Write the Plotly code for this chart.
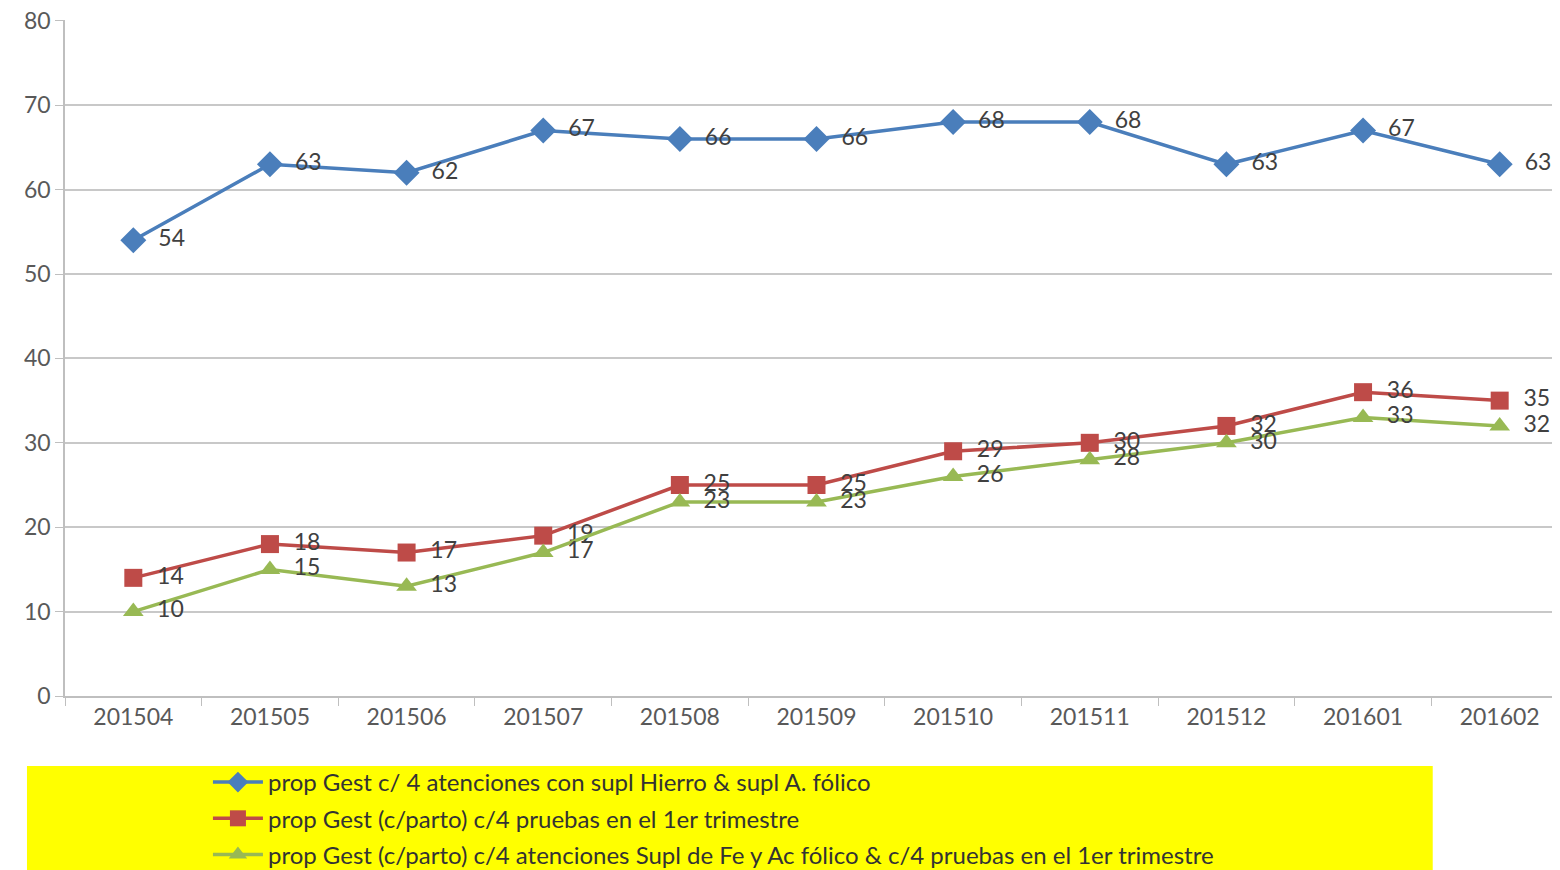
import plotly.graph_objects as go

categories = ["201504", "201505", "201506", "201507", "201508", "201509",
              "201510", "201511", "201512", "201601", "201602"]
serie_hierro = [54, 63, 62, 67, 66, 66, 68, 68, 63, 67, 63]
serie_pruebas = [14, 18, 17, 19, 25, 25, 29, 30, 32, 36, 35]
serie_ambos = [10, 15, 13, 17, 23, 23, 26, 28, 30, 33, 32]
names = [
    "prop Gest c/ 4 atenciones con supl Hierro & supl A. fólico",
    "prop Gest (c/parto) c/4 pruebas en el 1er trimestre",
    "prop Gest (c/parto) c/4 atenciones Supl de Fe y Ac fólico & c/4 pruebas en el 1er trimestre",
]

FONT = "Lato, 'Open Sans', sans-serif"
series = [
    (serie_hierro, names[0], "#4A7EBB", "diamond", 20),
    (serie_pruebas, names[1], "#BE4B48", "square", 18),
    (serie_ambos, names[2], "#98B954", "triangle-up", 18),
]

fig = go.Figure()
for i, (vals, nm, col, sym, sz) in enumerate(series):
    fig.add_trace(go.Scatter(
        x=categories, y=vals, name=nm, mode="lines+markers+text",
        legendgroup=f"g{i}",
        line=dict(color=col, width=3.5),
        marker=dict(symbol=sym, size=sz, color=col),
        text=["\u2002" + str(v) for v in vals], textposition="middle right",
        textfont=dict(family=FONT, size=23, color="#404040"),
        cliponaxis=False,
    ))

fig.add_shape(type="rect", xref="paper", yref="paper",
              x0=-0.0253, x1=0.910, y0=-0.1036, y1=-0.28,
              fillcolor="#FFFF00", line=dict(width=0), layer="below")

fig.update_layout(
    width=1560, height=870,
    margin=dict(l=57, r=0, t=12, b=182, autoexpand=False),
    paper_bgcolor="white", plot_bgcolor="white",
    font=dict(family=FONT, size=23, color="#595959"),
    showlegend=True,
    legend=dict(x=0.0951, y=-0.0947, xanchor="left", yanchor="top",
                bgcolor="rgba(0,0,0,0)", font=dict(family=FONT, size=24, color="#333333"),
                tracegroupgap=2, itemwidth=50),
    xaxis=dict(type="category", range=[-0.5, 10.5], tickson="boundaries",
               ticks="outside", ticklen=8, tickcolor="#BFBFBF",
               showline=True, linecolor="#BFBFBF", linewidth=1.5,
               showgrid=False, automargin=False,
               tickfont=dict(size=23, color="#595959")),
    yaxis=dict(range=[0, 80.1], tick0=0, dtick=10, ticks="outside", ticklen=8,
               tickcolor="#BFBFBF", showline=True, linecolor="#BFBFBF",
               linewidth=1.5, gridcolor="#C8C8C8", gridwidth=1.5,
               zeroline=False, automargin=False, ticklabeloverflow="allow",
               tickfont=dict(size=23, color="#595959")),
)

fig.write_html("out.html")
